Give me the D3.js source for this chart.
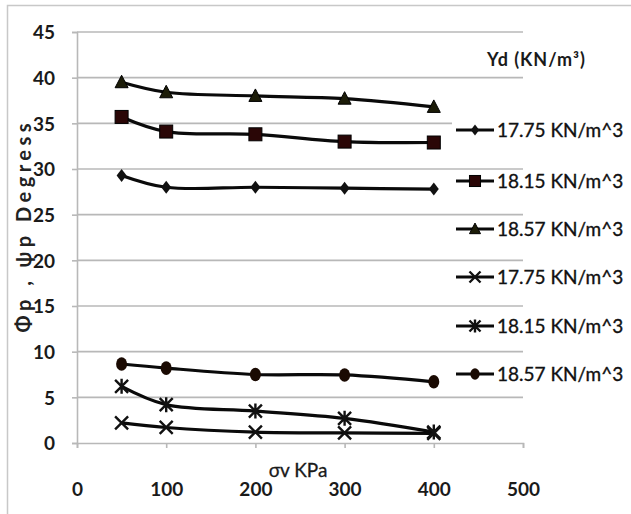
<!DOCTYPE html>
<html><head><meta charset="utf-8">
<script src="https://cdn.jsdelivr.net/npm/d3@7/dist/d3.min.js"></script>
<style>body{margin:0;background:#fff;} svg{display:block;}</style>
</head><body>
<svg id="c" width="631" height="514"></svg>
<script>
const xValues = [50, 100, 200, 300, 400];
const phi1775 = [29.3, 28.0, 28.0, 27.9, 27.8];
const phi1815 = [35.7, 34.1, 33.8, 33.0, 32.9];
const phi1857 = [39.5, 38.4, 38.0, 37.7, 36.8];
const psi1775 = [2.2, 1.7, 1.2, 1.1, 1.05];
const psi1815 = [6.2, 4.2, 3.5, 2.7, 1.2];
const psi1857 = [8.65, 8.2, 7.5, 7.45, 6.7];
const seriesNames = ["17.75 KN/m^3", "18.15 KN/m^3", "18.57  KN/m^3", "17.75 KN/m^3", "18.15 KN/m^3", "18.57 KN/m^3"];
const markers = ["diamond", "square", "triangle", "x", "asterisk", "circle"];
const xTicks = [0, 100, 200, 300, 400, 500];
const yTicks = [0, 5, 10, 15, 20, 25, 30, 35, 40, 45];
const legendTitle = "Yd (KN/m³)";
const xTitle = "σv KPa";
const yTitle = "Φp , ψp   Degress";

const series = [phi1775, phi1815, phi1857, psi1775, psi1815, psi1857];
const svg = d3.select("#c");
const font = "Lato,'Open Sans',sans-serif";
const x = d3.scaleLinear().domain([0, 500]).range([77, 523]);
const y = d3.scaleLinear().domain([0, 45]).range([443, 32]);

// frame
svg.append("path").attr("d", "M7.5,514 V5.5 H631").attr("fill", "none").attr("stroke", "#c8c8c8").attr("stroke-width", 1.5);

// gridlines
svg.append("g").selectAll("line").data(yTicks.filter(d => d > 0)).join("line")
  .attr("x1", x(0)).attr("x2", x(500)).attr("y1", d => y(d)).attr("y2", d => y(d))
  .attr("stroke", "#b8b8b8").attr("stroke-width", 1.6);

// axes
const yAxis = d3.axisLeft(y).tickValues(yTicks).tickSize(5).tickPadding(17);
const gy = svg.append("g").attr("transform", `translate(${x(0)},0)`).call(yAxis);
const xAxis = d3.axisBottom(x).tickValues(xTicks).tickSize(5).tickPadding(35);
const gx = svg.append("g").attr("transform", `translate(0,${y(0)})`).call(xAxis);
[gy, gx].forEach(g => {
  g.select(".domain").attr("stroke", "#b8b8b8").attr("stroke-width", 1.6);
  g.selectAll(".tick line").attr("stroke", "#b8b8b8").attr("stroke-width", 1.6);
  g.selectAll(".tick text").attr("fill", "#1a1a1a").attr("font-family", font)
    .attr("font-size", 19).attr("font-weight", "bold");
});
gy.selectAll(".tick text").attr("dy", "0.36em");

svg.append("text").attr("x", 536).attr("y", 66).attr("text-anchor", "middle")
  .attr("font-family", font).attr("font-size", 18).attr("font-weight", "bold").attr("fill", "#1a1a1a")
  .attr("textLength", 98).attr("lengthAdjust", "spacing").text(legendTitle);

// axis titles
svg.append("text").attr("x", 298).attr("y", 477).attr("text-anchor", "middle")
  .attr("font-family", font).attr("font-size", 19).attr("fill", "#1a1a1a")
  .attr("stroke", "#1a1a1a").attr("stroke-width", 0.3).text(xTitle);
svg.append("text").attr("transform", "translate(31,228) rotate(-90)").attr("text-anchor", "middle")
  .attr("font-family", font).attr("font-size", 20).attr("font-weight", "bold").attr("fill", "#222")
  .attr("textLength", 209).attr("lengthAdjust", "spacing").text(yTitle);

const markerFill = ["#111", "#2a0606", "#1c1c08", "none", "none", "#1a0a02"];
function drawMarker(g, type, cx, cy, i, k) {
  const s = 6.5 * k;
  if (type === "diamond") {
    g.append("path").attr("d", `M${cx},${cy-6.5*k}L${cx+5*k},${cy}L${cx},${cy+6.5*k}L${cx-5*k},${cy}Z`).attr("fill", markerFill[i]);
  } else if (type === "square") {
    g.append("rect").attr("x", cx - 6.5*k).attr("y", cy - 6.5*k).attr("width", 13*k).attr("height", 13*k).attr("fill", markerFill[i]).attr("stroke", "#000").attr("stroke-width", 1);
  } else if (type === "triangle") {
    g.append("path").attr("d", `M${cx},${cy-7*k}L${cx+6.5*k},${cy+5.5*k}L${cx-6.5*k},${cy+5.5*k}Z`).attr("fill", markerFill[i]).attr("stroke", "#000").attr("stroke-width", 1);
  } else if (type === "circle") {
    g.append("ellipse").attr("cx", cx).attr("cy", cy).attr("rx", 5.5*k).attr("ry", 6.8*k).attr("fill", markerFill[i]);
  } else if (type === "x") {
    g.append("path").attr("d", `M${cx-s},${cy-s}L${cx+s},${cy+s}M${cx-s},${cy+s}L${cx+s},${cy-s}`).attr("stroke", "#111").attr("stroke-width", 2.4);
  } else if (type === "asterisk") {
    g.append("path").attr("d", `M${cx-s},${cy-s}L${cx+s},${cy+s}M${cx-s},${cy+s}L${cx+s},${cy-s}M${cx},${cy-s-1}L${cx},${cy+s+1}`).attr("stroke", "#111").attr("stroke-width", 2.4);
  }
}

const line = d3.line().x((d, i) => x(xValues[i])).y(d => y(d)).curve(d3.curveCatmullRom.alpha(0.5));
series.forEach((vals, i) => {
  const g = svg.append("g");
  g.append("path").attr("d", line(vals)).attr("fill", "none").attr("stroke", "#0a0a0a").attr("stroke-width", 3.2);
  vals.forEach((v, j) => drawMarker(g, markers[i], x(xValues[j]), y(v), i, 1));
});

// legend
const legendY = [130, 181, 229, 277, 326, 374];
series.forEach((vals, i) => {
  const g = svg.append("g");
  const ly = legendY[i];
  g.append("rect").attr("x", 452).attr("y", ly - 11).attr("width", 176).attr("height", 22).attr("fill", "#fff");
  g.append("line").attr("x1", 456).attr("x2", 494).attr("y1", ly).attr("y2", ly).attr("stroke", "#0a0a0a").attr("stroke-width", 3);
  drawMarker(g, markers[i], 475, ly, i, 0.85);
  g.append("text").attr("x", 497).attr("y", ly).attr("dy", "0.36em")
    .attr("font-family", font).attr("font-size", 19).attr("fill", "#111")
    .attr("stroke", "#111").attr("stroke-width", 0.35).text(seriesNames[i]);
});
</script>
</body></html>
